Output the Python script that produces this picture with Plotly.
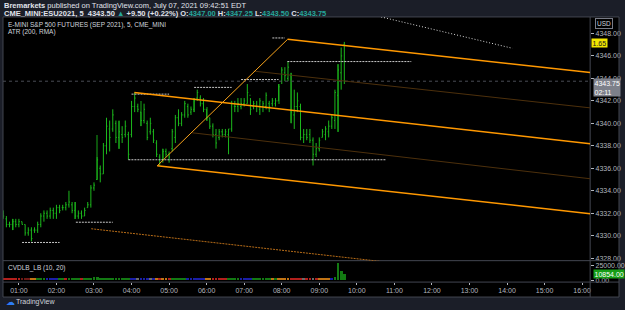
import plotly.graph_objects as go
import pandas as pd

W, H = 625, 310

# ---------------- data ----------------
BAR_START = "2021-07-07 00:35"
highs = [4332.25, 4331.75, 4331.25, 4331.5, 4331.5, 4331.5, 4331.25, 4331.0, 4330.75, 4330.75,
         4330.75, 4331.25, 4332.0, 4332.25, 4332.25, 4332.5, 4332.5, 4332.75, 4332.75, 4332.75,
         4333.0, 4334.0, 4333.0, 4333.0, 4332.25, 4332.25, 4332.5, 4333.0, 4334.5, 4334.75,
         4337.0, 4336.25, 4338.25, 4340.5, 4340.25, 4341.25, 4340.25, 4340.25, 4339.75, 4340.25,
         4339.25, 4342.0, 4342.75, 4341.75, 4341.0, 4341.75, 4340.25, 4340.5, 4339.5, 4338.5,
         4337.25, 4337.75, 4337.75, 4337.5, 4339.5, 4340.75, 4341.25, 4341.0, 4342.0, 4341.75,
         4341.5, 4342.25, 4343.0, 4342.5, 4342.25, 4341.25, 4340.5, 4340.0, 4339.5, 4339.5,
         4339.5, 4339.5, 4339.5, 4342.0, 4342.0, 4342.25, 4342.25, 4342.25, 4343.5, 4342.25,
         4342.0, 4342.0, 4342.25, 4342.0, 4342.75, 4342.0, 4342.25, 4342.25, 4343.5, 4345.0,
         4345.0, 4345.5, 4344.5, 4343.0, 4342.75, 4341.75, 4339.5, 4339.5, 4339.5, 4338.75,
         4338.25, 4338.75, 4339.5, 4339.75, 4340.25, 4340.75, 4343.0, 4345.25, 4346.75, 4347.25]
lows = [4331.5, 4330.75, 4330.75, 4330.5, 4330.75, 4330.75, 4331.0, 4330.0, 4330.0, 4329.5,
        4330.25, 4330.25, 4330.75, 4331.25, 4331.5, 4331.5, 4331.5, 4331.5, 4332.0, 4332.25,
        4332.25, 4332.5, 4332.0, 4331.5, 4331.5, 4331.5, 4331.75, 4332.5, 4332.5, 4334.0,
        4335.0, 4334.75, 4335.5, 4337.25, 4337.5, 4339.25, 4338.25, 4337.75, 4338.25, 4338.75,
        4336.75, 4338.75, 4341.0, 4341.0, 4339.75, 4340.0, 4338.5, 4339.0, 4338.25, 4337.0,
        4336.25, 4336.5, 4337.0, 4336.5, 4337.5, 4338.25, 4339.75, 4339.75, 4340.5, 4340.5,
        4340.75, 4341.0, 4342.0, 4341.5, 4341.0, 4340.25, 4339.5, 4338.75, 4337.75, 4338.5,
        4338.75, 4338.75, 4337.25, 4339.25, 4341.0, 4341.0, 4341.25, 4341.5, 4341.75, 4340.75,
        4341.25, 4341.0, 4340.75, 4341.0, 4341.25, 4341.0, 4341.5, 4341.5, 4342.0, 4343.5,
        4343.75, 4343.75, 4340.0, 4339.5, 4341.0, 4338.5, 4338.25, 4338.5, 4338.25, 4336.25,
        4337.0, 4337.5, 4338.75, 4338.5, 4338.75, 4339.5, 4339.5, 4339.25, 4343.0, 4343.5]
opens = [4332.0, 4331.5, 4331.0, 4331.0, 4331.25, 4331.0, 4331.25, 4331.0, 4330.25, 4330.5,
         4330.5, 4330.5, 4331.0, 4331.75, 4332.0, 4331.75, 4332.25, 4332.0, 4332.5, 4332.5,
         4332.5, 4332.75, 4332.75, 4332.25, 4331.75, 4332.0, 4331.75, 4332.5, 4332.75, 4334.25,
         4335.0, 4336.0, 4335.5, 4338.0, 4339.5, 4339.5, 4340.0, 4338.75, 4339.0, 4339.0,
         4339.0, 4339.0, 4341.5, 4341.5, 4341.0, 4340.25, 4340.0, 4339.25, 4339.25, 4338.25,
         4337.0, 4336.75, 4337.5, 4337.25, 4337.75, 4338.75, 4340.5, 4340.0, 4340.75, 4341.5,
         4341.0, 4341.25, 4342.25, 4342.25, 4341.75, 4341.25, 4340.5, 4339.75, 4339.0, 4338.75,
         4339.25, 4339.0, 4339.0, 4339.5, 4341.5, 4341.5, 4341.5, 4341.75, 4341.75, 4342.5,
         4341.5, 4341.5, 4341.25, 4341.5, 4341.5, 4341.75, 4341.75, 4341.75, 4342.0, 4343.75,
         4344.5, 4344.0, 4344.25, 4340.75, 4341.5, 4341.5, 4338.75, 4339.0, 4339.0, 4338.5,
         4337.25, 4337.75, 4338.75, 4339.0, 4339.25, 4339.75, 4340.25, 4342.5, 4344.5, 4347.0]
closes = [4331.75, 4331.0, 4331.0, 4331.25, 4331.0, 4331.25, 4331.0, 4330.25, 4330.5, 4329.75,
          4330.5, 4331.0, 4331.75, 4332.0, 4331.75, 4332.25, 4332.0, 4332.5, 4332.25, 4332.5,
          4332.75, 4333.0, 4332.25, 4331.75, 4332.0, 4331.75, 4332.25, 4332.75, 4334.25, 4334.5,
          4336.75, 4335.5, 4338.0, 4339.75, 4338.75, 4340.75, 4338.75, 4339.25, 4338.75, 4339.75,
          4337.25, 4341.5, 4342.25, 4341.25, 4340.25, 4341.25, 4338.75, 4340.0, 4338.5, 4337.25,
          4336.5, 4337.5, 4337.25, 4337.0, 4339.25, 4340.5, 4340.0, 4340.75, 4341.75, 4340.75,
          4341.25, 4342.0, 4342.75, 4341.75, 4341.25, 4340.5, 4339.75, 4339.0, 4338.25, 4339.25,
          4339.0, 4339.25, 4339.5, 4341.75, 4341.5, 4341.75, 4341.75, 4342.0, 4342.75, 4341.25,
          4341.75, 4341.5, 4342.0, 4341.75, 4342.5, 4341.5, 4342.0, 4342.0, 4343.25, 4344.75,
          4344.25, 4345.0, 4341.0, 4341.5, 4342.0, 4338.75, 4339.0, 4338.75, 4338.5, 4337.25,
          4337.75, 4338.5, 4339.25, 4339.5, 4339.75, 4340.5, 4342.75, 4344.75, 4346.0, 4343.75]

# darker (shadow) bodies drawn behind some bars: bar index, low, high
shadow_idx = [3, 23, 30, 37, 44, 51, 61, 65, 88, 92, 107]
shadow_lo = [4330.5, 4331.5, 4335.0, 4337.75, 4339.75, 4336.75, 4341.0, 4340.25, 4341.75, 4340.0, 4339.25]
shadow_hi = [4331.5, 4333.0, 4339.0, 4340.25, 4342.0, 4337.75, 4342.25, 4341.5, 4343.5, 4344.5, 4345.25]

volumes = [2600, 2400, 2200, 2500, 2300, 2100, 2000, 1900, 2200, 2400, 2100,
           2600, 2800, 2500, 2300, 2200, 2100, 2400, 2600, 2900, 2500, 2700, 3000, 2800,
           2600, 2400, 2500, 2700, 3100, 5800, 4600,
           3600, 3400, 3200, 3500, 3300, 3000, 3100, 2900, 2800, 3200,
           2500, 2700, 2300, 2600, 2400, 2200, 2500, 2300,
           2600, 2800, 2400, 2500, 2700, 2900, 3000, 2800, 2600, 2700,
           2400, 2300, 2200, 2500, 2400, 2300, 2600, 2500,
           2800, 2900, 3000, 2700, 2600, 2500, 2700, 2800, 2600,
           2300, 2400, 2200, 2500, 2700, 2600, 2800, 2900, 2700,
           3000, 3200, 2900, 3100, 3300, 3400, 3500, 3600, 3800, 3500,
           3400, 3200, 3600, 3300, 3100, 3500, 3200, 3000, 3400, 3300, 2800,
           5200, 29700, 16000, 10854]
vol_codes = ("rrrrrr" "ddd" "oo" "ggg" "bbbb" "ggrggg" "grggg" "gg" "gggggggggg" "bbkbbbkb"
             "oroor" "ggggg" "bbbbbb" "oo" "rrrrr" "gggg" "bbbb" "ggggg" "gogo" "ooo" "rrr"
             "rkrrkr" "oooo" "b" "gggg")

price_ticks = [4328, 4330, 4332, 4334, 4336, 4338, 4340, 4342, 4344, 4346, 4348]
time_tick_labels = ["01:00", "02:00", "03:00", "04:00", "05:00", "06:00", "07:00", "08:00",
                    "09:00", "10:00", "11:00", "12:00", "13:00", "14:00", "15:00", "16:00"]
last_price = 4343.75
last_volume = 10854
atr_value = 1.65

# drawing anchors (time, price)
channel_top = [("2021-07-07 08:09:24", 4347.48), ("2021-07-07 16:12:50", 4344.53)]
channel_mid = [("2021-07-07 04:04:30", 4342.74), ("2021-07-07 16:12:50", 4338.18)]
channel_bot = [("2021-07-07 04:41:00", 4336.22), ("2021-07-07 16:12:50", 4331.96)]
diag = [("2021-07-07 04:41:00", 4336.22), ("2021-07-07 08:09:24", 4347.48)]
brown1 = [("2021-07-07 07:15:00", 4344.65), ("2021-07-07 16:12:50", 4341.38)]
brown2 = [("2021-07-07 05:37:00", 4339.16), ("2021-07-07 16:12:50", 4335.07)]
orange_dotted = [("2021-07-07 02:55:36", 4330.62), ("2021-07-07 10:36:50", 4327.72)]
white_dotted = [("2021-07-07 10:38:50", 4349.47), ("2021-07-07 14:08:46", 4346.68)]
levels = [  # price, start, end
    (4329.4, "2021-07-07 01:05", "2021-07-07 02:05"),
    (4331.2, "2021-07-07 02:31", "2021-07-07 03:30"),
    (4336.76, "2021-07-07 03:55", "2021-07-07 10:47"),
    (4342.6, "2021-07-07 04:00", "2021-07-07 05:00"),
    (4343.2, "2021-07-07 05:40", "2021-07-07 06:40"),
    (4343.9, "2021-07-07 06:55", "2021-07-07 07:55"),
    (4345.5, "2021-07-07 08:09", "2021-07-07 11:27"),
    (4347.6, "2021-07-07 07:45", "2021-07-07 08:05"),
]

assert len(highs) == len(lows) == len(opens) == len(closes) == len(volumes) == len(vol_codes) == 110

# ---------------- styling ----------------
OUTER = "#1b1e28"
BORDER = "#434651"
TXT = "#b2b5be"
FONT = "Liberation Sans"
GREEN = "#1cb81c"
times = pd.date_range(BAR_START, periods=len(highs), freq="5min")
code_color = {"r": "#b3201c", "d": "#6e1a16", "o": "#c27414", "g": "#137a13",
              "b": "#1a1fa8", "k": "#6b6b6b"}
vol_colors = [code_color[c] for c in vol_codes]


def px(x):
    return x / W


def py(y):
    return 1 - y / H


X0, X1 = "2021-07-07 00:34:34", "2021-07-07 16:12:50"
fig = go.Figure()

fig.add_trace(go.Bar(x=[times[i] for i in shadow_idx],
                     y=[h - l for h, l in zip(shadow_hi, shadow_lo)], base=shadow_lo,
                     width=200000, marker=dict(color="#0c520c", line_width=0),
                     xaxis="x", yaxis="y", hoverinfo="skip"))
fig.add_trace(go.Ohlc(x=times, open=opens, high=highs, low=lows, close=closes,
                      increasing=dict(line=dict(color=GREEN, width=1)),
                      decreasing=dict(line=dict(color=GREEN, width=1)),
                      tickwidth=0.3, xaxis="x", yaxis="y"))
fig.add_trace(go.Bar(x=times, y=volumes, marker=dict(color=vol_colors, line_width=0),
                     width=270000, xaxis="x2", yaxis="y2"))

shapes = []
# black chart body and borders
shapes.append(dict(type="rect", xref="paper", yref="paper", x0=px(3), x1=px(622),
                   y0=py(298), y1=py(17), fillcolor="#000000", line_width=0, layer="below"))
for yy in [17, 261.5, 283, 298]:
    shapes.append(dict(type="line", xref="paper", yref="paper", x0=px(3), x1=px(622),
                       y0=py(yy), y1=py(yy), line=dict(color=BORDER, width=1)))
for xx in [3, 593, 622]:
    shapes.append(dict(type="line", xref="paper", yref="paper", x0=px(xx), x1=px(xx),
                       y0=py(298), y1=py(17), line=dict(color=BORDER, width=1)))


def seg(pts, color, width, dash="solid"):
    (t0, p0), (t1, p1) = pts
    return dict(type="line", xref="x", yref="y", x0=t0, y0=p0, x1=t1, y1=p1,
                line=dict(color=color, width=width, dash=dash))


# current price line
shapes.append(dict(type="line", xref="x", yref="y", x0=X0, x1=X1, y0=last_price, y1=last_price,
                   line=dict(color="#4a4d55", width=1, dash="3px,3px")))
for p, t0, t1 in levels:
    shapes.append(dict(type="line", xref="x", yref="y", x0=t0, x1=t1, y0=p, y1=p,
                       line=dict(color="#c8c8c8", width=1, dash="2px,1px")))
shapes.append(seg(brown1, "#4d300c", 1))
shapes.append(seg(brown2, "#4d300c", 1))
shapes.append(seg(channel_top, "#ff9800", 1.5))
shapes.append(seg(channel_mid, "#ff9800", 1.5))
shapes.append(seg(channel_bot, "#ff9800", 1.5))
shapes.append(seg(diag, "#f7a21b", 1))
shapes.append(seg(orange_dotted, "#b86d18", 1, "2px,1px"))
shapes.append(seg(white_dotted, "#d8d8d8", 1, "1px,2px"))

ann = []


def text(x, y, s, size=7, color="#d1d4dc", xanchor="left", yanchor="middle", **kw):
    ann.append(dict(xref="paper", yref="paper", x=px(x), y=py(y), text=s, showarrow=False,
                    xanchor=xanchor, yanchor=yanchor,
                    font=dict(family=FONT, size=size, color=color), **kw))


TEAL = "#26a69a"
text(2, 5.5, "<b>Bremarkets</b> published on TradingView.com, July 07, 2021 09:42:51 EDT",
     size=7.5, color="#e0e3eb")
text(2, 13.5, ("<b>CME_MINI:ESU2021, 5  4343.50 <span style='color:%s'>▲</span> +9.50 (+0.22%%)"
               " O:<span style='color:%s'>4347.00</span> H:<span style='color:%s'>4347.25</span>"
               " L:<span style='color:%s'>4343.50</span> C:<span style='color:%s'>4343.75</span></b>")
     % (TEAL, TEAL, TEAL, TEAL, TEAL), size=7.5, color="#e0e3eb")
text(6, 25, "E-MINI S&P 500 FUTURES (SEP 2021), 5, CME_MINI", size=6.5)
text(6, 32.5, "ATR (200, RMA)", size=6.5)
text(6, 268.5, "CVDLB_LB (10, 20)", size=6.5)
text(607, 24, "USD", size=6.5, color="#d1d4dc", xanchor="center",
     bordercolor="#787b86", borderwidth=1, borderpad=1)
ann.append(dict(xref="paper", yref="y", x=px(594), y=4347.15, text="%.2f" % atr_value,
                showarrow=False, xanchor="left", yanchor="middle", bgcolor="#f2e600",
                font=dict(family=FONT, size=7, color="#131722"), borderpad=0.5))
ann.append(dict(xref="paper", yref="y", x=px(596), y=4344.0,
                text="%.2f<br>02:11" % last_price, showarrow=False, xanchor="left",
                yanchor="top", bgcolor="#7d808a", align="left",
                font=dict(family=FONT, size=7, color="#ffffff"), borderpad=0.5))
ann.append(dict(xref="paper", yref="y2", x=px(596), y=last_volume, text="%.2f" % last_volume,
                showarrow=False, xanchor="left", yanchor="middle", bgcolor="#169e16",
                font=dict(family=FONT, size=7, color="#ffffff"), borderpad=0.5))
text(4, 302.5, "<span style='color:#2d7cf6'>☁</span>", size=9)
text(14, 302.5, "TradingView", size=7, color="#d1d4dc")

tick_times = pd.date_range("2021-07-07 01:00", periods=len(time_tick_labels), freq="1h")
axfont = dict(family=FONT, size=7, color=TXT)
fig.update_layout(
    width=W, height=H, margin=dict(l=0, r=0, t=0, b=0),
    paper_bgcolor=OUTER, plot_bgcolor="#000000", showlegend=False,
    shapes=shapes, annotations=ann, bargap=0,
    xaxis=dict(domain=[px(3), px(593)], range=[X0, X1], showgrid=False, zeroline=False,
               showticklabels=False, rangeslider=dict(visible=False), anchor="y", type="date"),
    yaxis=dict(domain=[py(261.5), py(17)], range=[4327.78, 4349.47], side="right",
               showgrid=False, zeroline=False, tickvals=price_ticks, tickformat=".2f",
               ticks="outside", ticklen=3, tickcolor=TXT, tickfont=axfont, anchor="x"),
    xaxis2=dict(domain=[px(3), px(593)], range=[X0, X1], showgrid=False, zeroline=False,
                tickvals=tick_times, ticktext=time_tick_labels, ticks="outside", ticklen=2,
                tickcolor=TXT, tickfont=axfont, anchor="y2", type="date", matches="x"),
    yaxis2=dict(domain=[py(283), py(262)], range=[-3500, 33000], side="right",
                showgrid=False, zeroline=False, tickvals=[0, 25000], tickformat=".2f",
                ticks="outside", ticklen=3, tickcolor=TXT, tickfont=axfont, anchor="x2"),
)
fig.write_html("out.html")
